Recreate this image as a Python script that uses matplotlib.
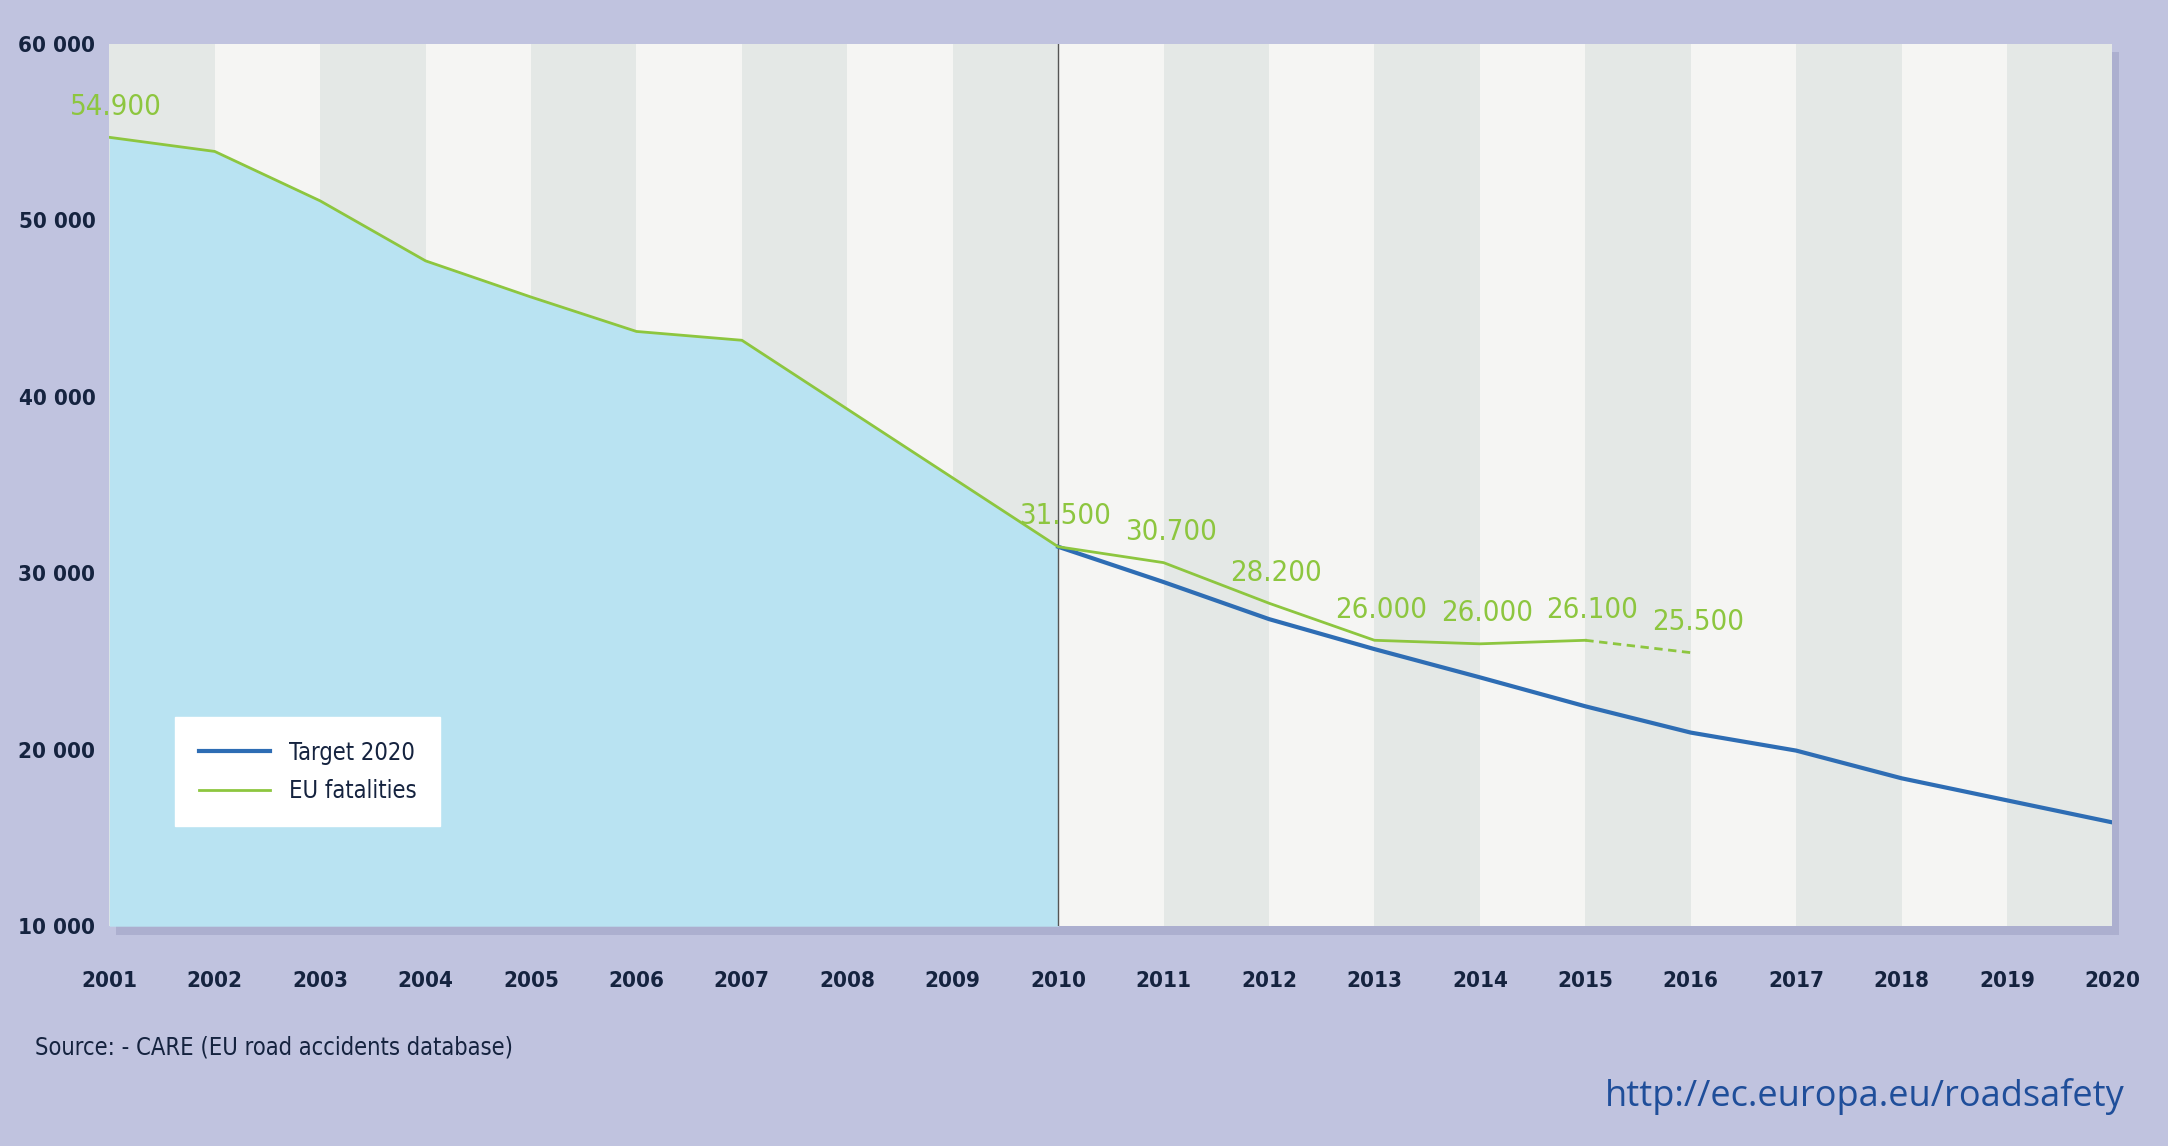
import matplotlib
matplotlib.use("Agg")
import matplotlib.pyplot as plt
import matplotlib.patheffects as pe

years = list(range(2001, 2021))
fat_years = list(range(2001, 2016))
fatalities = [54700, 53900, 51100, 47700, 45650, 43700, 43200, 39300, 35400, 31500,
              30600, 28300, 26200, 26000, 26200]
proj_years = [2015, 2016]
projection = [26200, 25500]
target_years = list(range(2010, 2021))
target = [31500, 29500, 27400, 25700, 24100, 22460, 20970, 19950, 18380, 17130, 15880]
label_years = [2001, 2010, 2011, 2012, 2013, 2014, 2015, 2016]
label_vals = [54700, 31500, 30600, 28300, 26200, 26000, 26200, 25500]
label_texts = ["54.900", "31.500", "30.700", "28.200", "26.000", "26.000", "26.100", "25.500"]
yticks = [10000, 20000, 30000, 40000, 50000, 60000]

plt.rcParams['font.family'] = ["DejaVu Sans"]
plt.rcParams['font.stretch'] = 'condensed'
GREEN = "#8dc63f"
BLUE = "#2e6db4"
DARK = "#15233f"

fig = plt.figure(figsize=(21.68, 11.46), dpi=100, facecolor="#c0c3df")
ax = fig.add_axes([0.0504, 0.1918, 0.924, 0.770])
ax.patch.set_path_effects([pe.SimplePatchShadow(offset=(5, -6), shadow_rgbFace="#9a9dc0", alpha=0.5), pe.Normal()])
ax.set_xlim(2001, 2020)
ax.set_ylim(10000, 60000)
for i, y in enumerate(years[:-1]):
    ax.axvspan(y, y + 1, color="#e4e8e6" if i % 2 == 0 else "#f5f5f3", lw=0, zorder=0)
ax.fill_between(fat_years[:10], fatalities[:10], 10000, color="#b9e3f2", lw=0, zorder=1)
ax.axvline(2010, color="#555555", lw=1, zorder=2)
ax.plot(target_years, target, color=BLUE, lw=3, zorder=4, label="Target 2020")
ax.plot(fat_years, fatalities, color=GREEN, lw=2, zorder=5, label="EU fatalities")
ax.plot(proj_years, projection, color=GREEN, lw=2, ls=(0, (3, 2)), zorder=5)
for x, v, t in zip(label_years, label_vals, label_texts):
    ax.annotate(t, (x, v), xytext=(5, 12), textcoords="offset points",
                ha="center", va="bottom", color=GREEN, fontsize=21)
ax.set_yticks(yticks)
ax.set_yticklabels([f"{v//1000} 000" for v in yticks], fontsize=16, color=DARK, fontweight="bold")
ax.set_xticks(years)
ax.set_xticklabels([str(y) for y in years], fontsize=16, color=DARK, fontweight="bold")
ax.tick_params(length=0, pad=32, axis="x")
ax.tick_params(length=0, pad=10, axis="y")
for s in ax.spines.values():
    s.set_visible(False)
leg = ax.legend(loc="lower left", bbox_to_anchor=(0.033, 0.113), fontsize=17, frameon=True,
                fancybox=False, edgecolor="white", framealpha=1, borderpad=1.0, handlelength=3,
                labelspacing=0.6, borderaxespad=0)
for t in leg.get_texts():
    t.set_color(DARK)
fig.text(0.016, 0.08, "Source: - CARE (EU road accidents database)", fontsize=17, color=DARK)
fig.text(0.98, 0.035, "http://ec.europa.eu/roadsafety", fontsize=26, color="#1f4e9a", ha="right",
         family=["Open Sans", "DejaVu Sans"], fontstretch="normal")
fig.savefig("out.png", facecolor=fig.get_facecolor())
